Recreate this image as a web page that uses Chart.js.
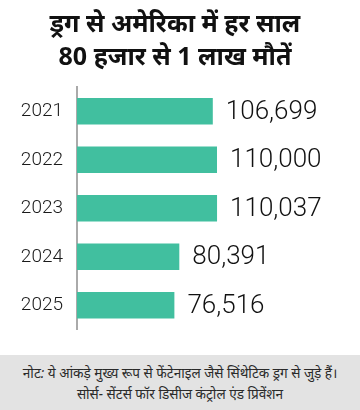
<!DOCTYPE html>
<html>
<head>
<meta charset="utf-8">
<script src="https://cdn.jsdelivr.net/npm/chart.js@4"></script>
<style>
  html, body { margin: 0; padding: 0; background: #fff; }
  #wrap { width: 360px; height: 355px; position: relative; }
  #note {
    width: 360px; height: 55px; background: #e3e3e3; color: #2a2a2a;
    font-family: "Noto Sans", sans-serif; font-size: 13.6px; font-style: italic;
    text-align: center; line-height: 21px; padding-top: 7px; box-sizing: border-box;
  }
</style>
</head>
<body>
<div id="wrap"><canvas id="chart" width="360" height="355"></canvas></div>
<div id="note">
  <div>नोट: ये आंकड़े मुख्य रूप से फेंटेनाइल जैसे सिंथेटिक ड्रग से जुड़े हैं।</div>
  <div>सोर्स- सेंटर्स फॉर डिसीज कंट्रोल एंड प्रिवेंशन</div>
</div>
<script>
// Overdose deaths in the US by year
const years = ['2021', '2022', '2023', '2024', '2025'];
const deaths = [106699, 110000, 110037, 80391, 76516];
const titleLines = ['ड्रग से अमेरिका में हर साल', '80 हजार से 1 लाख मौतें'];

// write numbers on the right end of each bar
const valueLabels = {
  id: 'valueLabels',
  afterDatasetsDraw(chart) {
    const ctx = chart.ctx;
    const meta = chart.getDatasetMeta(0);
    ctx.save();
    ctx.font = '300 26px Roboto, sans-serif';
    ctx.fillStyle = '#111';
    ctx.textBaseline = 'middle';
    meta.data.forEach((bar, i) => {
      ctx.fillText(deaths[i].toLocaleString('en-US'), bar.x + 13, bar.y + 1);
    });
    ctx.restore();
  }
};

new Chart(document.getElementById('chart'), {
  type: 'bar',
  data: {
    labels: years,
    datasets: [{
      data: deaths,
      backgroundColor: '#41bf9f',
      categoryPercentage: 1,
      barPercentage: 0.545
    }]
  },
  options: {
    indexAxis: 'y',
    responsive: false,
    animation: false,
    layout: { padding: { left: 0, right: 10, bottom: 11, top: 0 } },
    plugins: {
      legend: { display: false },
      tooltip: { enabled: false },
      title: {
        display: true,
        text: titleLines,
        color: '#111',
        font: { family: '"Noto Sans", sans-serif', size: 25, weight: 'bold', lineHeight: 1.32 },
        padding: { top: 8, bottom: 13 }
      }
    },
    scales: {
      x: {
        display: false,
        min: 0,
        max: 214500
      },
      y: {
        grid: { display: false, drawTicks: false },
        border: { display: true, color: '#aaa', width: 2 },
        ticks: {
          color: '#1a1a1a',
          padding: 14,
          font: { family: 'Roboto, sans-serif', size: 19, weight: '300' }
        },
        afterFit(scale) { scale.width = 77; }
      }
    }
  },
  plugins: [valueLabels]
});
</script>
</body>
</html>
